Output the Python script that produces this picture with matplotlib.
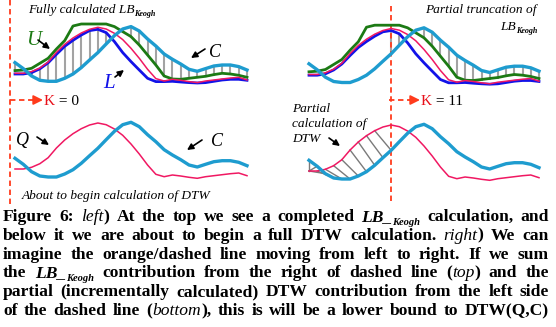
import matplotlib.pyplot as plt

# time series (height above the panel baseline), 29 samples each
C = [20.7, 14.7, 7.3, 3.0, 2.0, 2.0, 5.0, 9.3, 15.7, 23.3, 30.7, 39.3, 47.7, 54.3, 56.7,
     52.3, 44.3, 37.3, 29.3, 24.0, 19.3, 14.0, 12.0, 14.7, 17.3, 18.3, 18.3, 16.7, 13.3]
Q = [10.0, 10.0, 11.7, 15.3, 21.3, 31.0, 39.0, 45.3, 50.3, 54.0, 56.0, 54.3, 50.0, 43.7, 35.0,
     25.0, 14.0, 4.7, 2.3, 4.0, 3.0, 1.7, 0.7, 2.3, 3.3, 4.3, 5.3, 6.0, 3.3]
U = [12.7, 13.3, 15.0, 20.0, 25.0, 34.3, 42.7, 57.3, 59.3, 59.3, 59.3, 59.3, 56.7, 51.7, 46.7,
     38.3, 28.3, 18.3, 7.3, 4.3, 4.0, 5.0, 6.0, 7.0, 8.7, 10.0, 9.3, 8.0, 6.0]
L = [9.3, 9.3, 10.7, 14.5, 20.5, 29.0, 37.0, 43.0, 48.3, 52.7, 54.0, 50.7, 41.7, 30.7, 21.7,
     13.3, 5.0, 1.7, 1.7, 2.0, 1.3, 0.7, 0.3, 0.7, 2.0, 3.3, 4.0, 4.0, 3.0]
# partial DTW warping path (Q index, C index) up to the dashed line
path = [(0, 0), (0, 1), (0, 2), (1, 3), (2, 4), (3, 5), (4, 6), (5, 7), (6, 8), (7, 9), (8, 10)]
k_right = 10  # dashed line position in the right panels (K = 11)

caption = [
    [("Figure 6: ", "b"), ("left", "i"), (") At the top we see a completed ", "b"), ("LB_", "bi"),
     ("Keogh", "s"), (" calculation, and", "b")],
    [("below it we are about to begin a full DTW calculation. ", "b"), ("right", "i"), (") We can", "b")],
    [("imagine the orange/dashed line moving from left to right. If we sum", "b")],
    [("the ", "b"), ("LB_", "bi"), ("Keogh", "s"), (" contribution from the right of dashed line (", "b"),
     ("top", "i"), (") and the", "b")],
    [("partial (incrementally calculated) DTW contribution from the left side", "b")],
    [("of the dashed line (", "b"), ("bottom", "i"), ("), this is will be a lower bound to DTW(Q,C)", "b")],
]

SERIF = "Liberation Serif"
CBLUE = "#1e9ccf"
PINK = "#f01862"
GREEN = "#1c7a14"
BLUE = "#1212e8"
GRAY = "#a3a3a3"
RED = "#ff3b1c"

fig = plt.figure(figsize=(5.56, 3.27), dpi=100)
ov = fig.add_axes([0, 0, 1, 1])
ov.set_xlim(0, 556)
ov.set_ylim(327, 0)
ov.axis("off")
r = fig.canvas.get_renderer()


def panel(x0, w, base):
    ax = fig.add_axes([x0 / 556, 1 - base / 327, w / 556, 60 / 327])
    ax.set_xlim(0, len(C) - 1)
    ax.set_ylim(0, 60)
    ax.axis("off")
    return ax


def curves(ax, env=True):
    if env:
        ax.plot(U, color=GREEN, lw=2.0, clip_on=False, zorder=3)
        ax.plot(L, color=BLUE, lw=2.0, clip_on=False, zorder=3)
    ax.plot(Q, color=PINK, lw=1.1, clip_on=False, zorder=4)
    ax.plot(C, color=CBLUE, lw=2.4, clip_on=False, zorder=5)


def keogh_hatch(ax, start=0):
    for i in range(start, len(C)):
        if C[i] > U[i]:
            ax.plot([i, i], [U[i], C[i]], color=GRAY, lw=1.5, zorder=1, clip_on=False)
        elif C[i] < L[i]:
            ax.plot([i, i], [C[i], L[i]], color=GRAY, lw=1.5, zorder=1, clip_on=False)


# top left: full LB_Keogh
ax1 = panel(15, 232, 83.3)
keogh_hatch(ax1)
curves(ax1)
# bottom left: Q and C
ax2 = panel(15, 232, 179)
curves(ax2, env=False)
# top right: truncated LB_Keogh
ax3 = panel(309, 230, 84.5)
keogh_hatch(ax3, k_right)
curves(ax3)
ax3.plot([k_right, k_right], [79, -116], ls=(0, (3, 2)), color=RED, lw=1.3, clip_on=False)
# bottom right: partial DTW
ax4 = panel(309, 230, 181)
for qi, ci in path:
    ax4.plot([qi, ci], [Q[qi], C[ci]], color="#7a7a7a", lw=1.0, zorder=1, clip_on=False)
curves(ax4, env=False)

# left dashed line
ov.plot([10, 10], [0, 204], ls=(0, (3, 2)), color=RED, lw=1.3)

STYLES = {"b": dict(weight="bold"), "i": dict(style="italic"),
          "bi": dict(style="italic", weight="bold"),
          "s": dict(style="italic", weight="bold")}


def word_runs(x, y, runs, size, keep=True):
    texts = []
    for s, k in runs:
        fs = size * 0.6 if k == "s" else size
        dy = size * 0.3 if k == "s" else 0
        t = ov.text(x, y + dy, s, family=SERIF, fontsize=fs, va="baseline", ha="left", **STYLES[k])
        x += t.get_window_extent(r).width
        texts.append(t)
    if not keep:
        for t in texts:
            t.remove()
    return x


def measure(runs, size):
    return word_runs(0, 0, runs, size, keep=False)


# panel texts
fs_small = 9.6
x = word_runs(28, 13, [("Fully calculated LB", "i")], fs_small)
word_runs(x, 13, [("Keogh", "s")], fs_small)
w1 = measure([("Partial truncation of", "i")], fs_small)
word_runs(537 - w1, 13, [("Partial truncation of", "i")], fs_small)
w2 = measure([("LB", "i"), ("Keogh", "s")], fs_small)
word_runs(537 - w2, 30, [("LB", "i"), ("Keogh", "s")], fs_small)
word_runs(22, 199, [("About to begin calculation of DTW", "i")], fs_small)
for j, s in enumerate(["Partial", "calculation of", "DTW"]):
    word_runs(292, 112 + j * 15, [(s, "i")], fs_small)

ov.text(26, 45, "U", family=SERIF, style="italic", fontsize=15, color=GREEN, va="baseline")
ov.text(103, 88, "L", family=SERIF, style="italic", fontsize=15, color=BLUE, va="baseline")
ov.text(209, 57, "C", family=SERIF, style="italic", fontsize=13, color="k", va="baseline")
ov.text(16, 145, "Q", family=SERIF, style="italic", fontsize=13, color="k", va="baseline")
ov.text(211, 146, "C", family=SERIF, style="italic", fontsize=13, color="k", va="baseline")

for tail, head in [((38, 40), (50, 49)), ((115, 77), (124, 70)), ((205, 49), (191, 58)),
                   ((37, 137), (49, 145)), ((202, 140), (187, 150)), ((329, 138), (340, 146))]:
    ov.annotate("", xy=head, xytext=tail,
                arrowprops=dict(arrowstyle="-|>", color="k", lw=1.2, mutation_scale=9,
                                shrinkA=0, shrinkB=0))

# K arrows
for x0, x1, lab in [(10, 43, "0"), (389, 420, "11")]:
    ov.plot([x0, x1 - 8], [100, 100], ls=(0, (3, 2)), color=RED, lw=1.3)
    ov.annotate("", xy=(x1, 100), xytext=(x1 - 10, 100),
                arrowprops=dict(arrowstyle="-|>", color=RED, lw=1.3, mutation_scale=14,
                                shrinkA=0, shrinkB=0))
    t = ov.text(x1 + 1, 105, "K", family=SERIF, fontsize=11, color="#e8101a", va="baseline")
    xe = x1 + 1 + t.get_window_extent(r).width
    ov.text(xe, 105, " = " + lab, family=SERIF, fontsize=11, color="k", va="baseline")

# caption, justified between two margins
FS = 12.6
left, right = 3, 549
for n, line in enumerate(caption):
    y = 221 + n * 18.8
    # single-style line that nearly fills the width: one text keeps a steady baseline
    if len(line) == 1 and right - left - measure(line, FS) < 15:
        word_runs(left, y, line, FS)
        continue
    words, cur = [], []
    for s, k in line:
        parts = s.split(" ")
        for pi, p in enumerate(parts):
            if pi > 0 and cur:
                words.append(cur)
                cur = []
            if p:
                cur.append((p, k))
    if cur:
        words.append(cur)
    widths = [measure(w, FS) for w in words]
    gap = (right - left - sum(widths)) / (len(words) - 1)
    x = left
    for w, wd in zip(words, widths):
        word_runs(x, y, w, FS)
        x += wd + gap

fig.savefig("out.png", dpi=100, facecolor="white")
